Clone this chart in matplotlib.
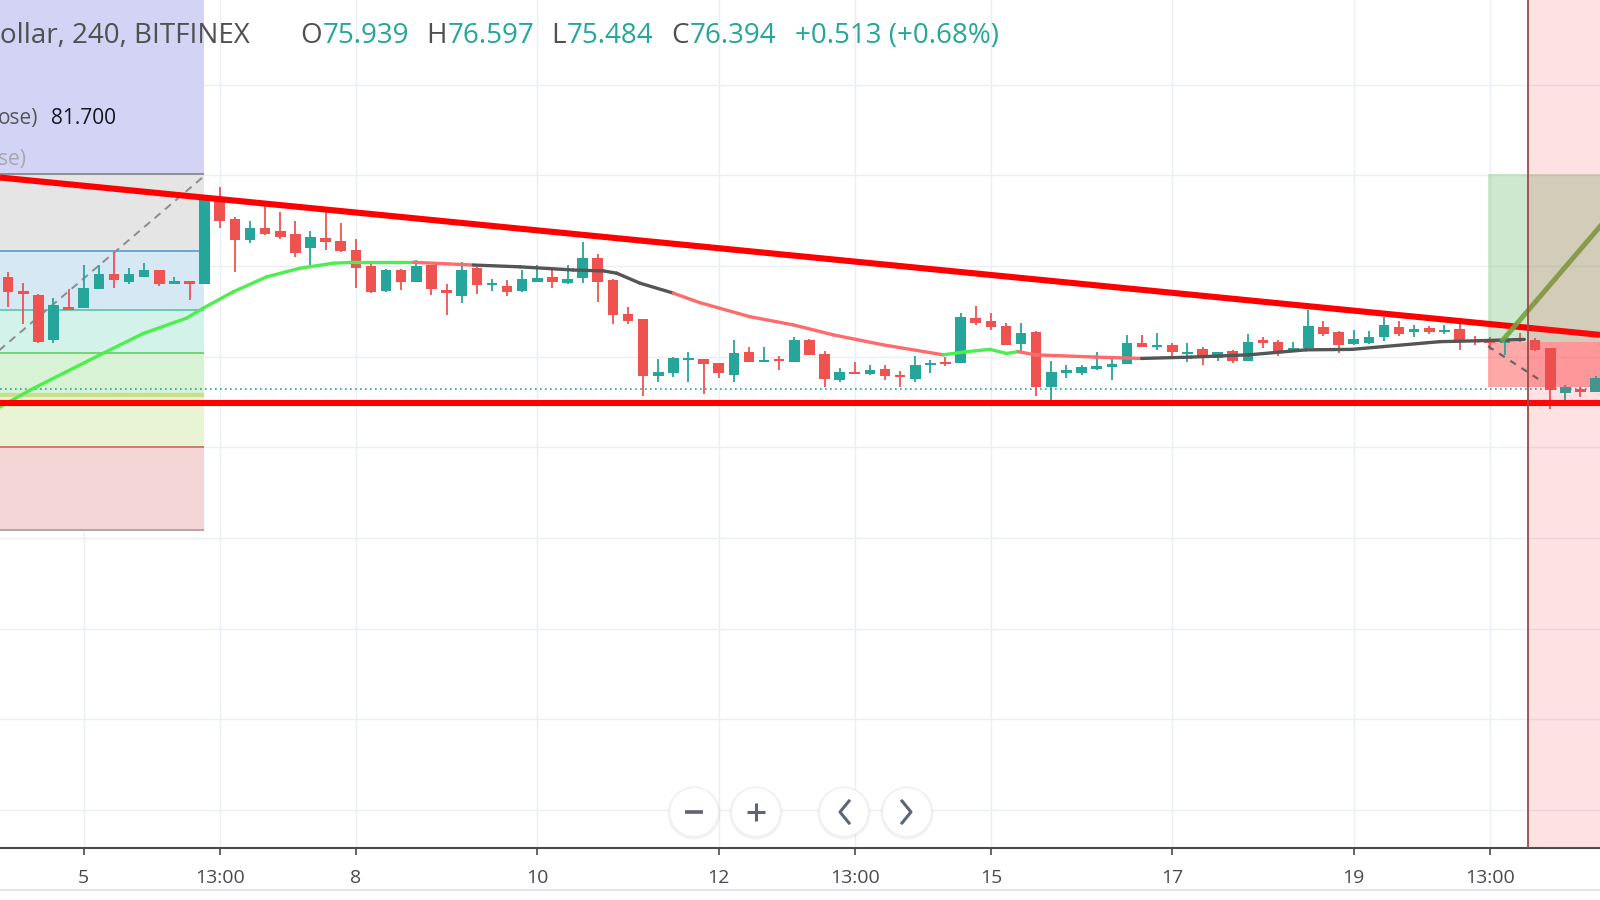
import matplotlib
matplotlib.use("Agg")
import matplotlib.pyplot as plt
from matplotlib.patches import Rectangle, Circle
from matplotlib.collections import LineCollection
import numpy as np

plt.rcParams['font.family'] = ['Open Sans', 'DejaVu Sans']

# ---------------- data (4h bars, index 0 = day 5) ----------------
bar_index = list(range(-5, 101))
opens = [78.88, 78.57, 78.49, 77.49, 78.21, 78.19, 78.61, 78.95, 78.76, 78.88,
         79.02, 78.72, 78.79, 78.73, 80.57, 80.15, 79.69, 79.95, 79.90, 79.82,
         79.51, 79.73, 79.68, 79.47, 79.12, 78.57, 79.03, 78.76, 79.13, 78.59,
         78.46, 79.07, 78.70, 78.68, 78.57, 78.77, 78.87, 78.75, 78.85, 79.29,
         78.81, 78.06, 77.95, 76.69, 76.77, 77.04, 77.06, 76.99, 76.72, 77.22,
         77.00, 77.06, 77.01, 77.49, 77.18, 76.61, 76.79, 76.73, 76.84, 76.72,
         76.63, 76.94, 77.01, 76.97, 77.98, 77.91, 77.80, 77.39, 77.67, 76.46,
         76.75, 76.77, 76.85, 76.90, 76.95, 77.41, 77.34, 77.38, 77.19, 77.29,
         77.08, 77.24, 77.02, 77.49, 77.45, 77.24, 77.30, 77.78, 77.67, 77.39,
         77.43, 77.56, 77.78, 77.67, 77.75, 77.66, 77.72, 77.49, 77.49, 77.43,
         77.50, 77.49, 77.30, 76.31, 76.40, 76.35]
highs = [78.99, 78.74, 78.50, 78.41, 78.61, 79.14, 79.13, 79.42, 79.07, 79.18,
         79.02, 78.87, 78.79, 80.65, 80.87, 80.21, 80.10, 80.45, 80.30, 80.10,
         79.88, 80.32, 80.06, 79.71, 79.20, 79.05, 79.05, 79.25, 79.13, 78.72,
         79.20, 79.10, 78.83, 78.81, 79.02, 79.14, 79.02, 79.13, 79.64, 79.38,
         78.83, 78.21, 77.95, 77.07, 77.12, 77.23, 77.06, 76.99, 77.49, 77.34,
         77.34, 77.13, 77.55, 77.50, 77.24, 76.86, 77.01, 76.94, 76.94, 76.81,
         77.13, 77.05, 77.11, 78.08, 78.24, 78.08, 77.87, 77.86, 77.69, 77.03,
         76.94, 76.94, 77.23, 77.13, 77.60, 77.60, 77.65, 77.43, 77.41, 77.34,
         77.22, 77.27, 77.62, 77.56, 77.49, 77.45, 78.15, 77.91, 77.69, 77.71,
         77.69, 78.00, 77.91, 77.82, 77.80, 77.82, 77.86, 77.58, 77.55, 77.56,
         77.65, 77.53, 77.30, 76.50, 76.44, 76.69]
lows = [78.22, 77.83, 77.41, 77.41, 78.15, 78.19, 78.61, 78.64, 78.72, 78.88,
        78.68, 78.72, 78.37, 78.73, 79.95, 78.99, 79.62, 79.80, 79.71, 79.32,
        79.13, 79.47, 79.42, 78.64, 78.53, 78.55, 78.59, 78.76, 78.49, 78.04,
        78.30, 78.50, 78.57, 78.46, 78.55, 78.76, 78.64, 78.72, 78.74, 78.33,
        77.84, 77.84, 76.26, 76.57, 76.66, 76.57, 76.30, 76.64, 76.57, 77.01,
        77.00, 76.83, 77.01, 77.16, 76.44, 76.57, 76.73, 76.72, 76.61, 76.44,
        76.57, 76.77, 76.91, 76.97, 77.82, 77.71, 77.38, 77.23, 76.25, 76.08,
        76.64, 76.72, 76.83, 76.61, 76.95, 77.34, 77.27, 77.13, 77.01, 76.94,
        77.02, 76.99, 77.02, 77.30, 77.13, 77.23, 77.30, 77.58, 77.21, 77.38,
        77.39, 77.47, 77.58, 77.56, 77.63, 77.63, 77.27, 77.38, 77.27, 77.16,
        77.45, 77.24, 75.96, 76.08, 76.24, 76.35]
closes = [78.54, 78.51, 77.45, 78.26, 78.15, 78.64, 78.95, 78.81, 78.95, 79.02,
          78.72, 78.79, 78.73, 80.65, 80.11, 79.69, 79.95, 79.82, 79.76, 79.40,
          79.76, 79.65, 79.45, 79.08, 78.55, 79.03, 78.77, 79.12, 78.61, 78.52,
          79.02, 78.70, 78.74, 78.54, 78.83, 78.86, 78.77, 78.83, 79.29, 78.77,
          78.04, 77.91, 76.69, 76.79, 77.08, 77.09, 76.96, 76.77, 77.21, 77.01,
          77.05, 77.02, 77.49, 77.16, 76.62, 76.79, 76.73, 76.83, 76.69, 76.66,
          76.94, 76.99, 76.97, 78.00, 77.86, 77.77, 77.38, 77.64, 76.46, 76.79,
          76.83, 76.89, 76.91, 76.96, 77.41, 77.34, 77.38, 77.22, 77.23, 77.08,
          77.22, 77.02, 77.44, 77.41, 77.21, 77.30, 77.80, 77.63, 77.38, 77.50,
          77.56, 77.82, 77.63, 77.72, 77.67, 77.71, 77.45, 77.44, 77.43, 77.49,
          77.47, 77.27, 76.38, 76.44, 76.33, 76.64]

# moving average (colour changes with its direction)
ma_x = [-5.54, -3.33, -1.12, 1.08, 3.94, 6.81, 7.91, 9.89, 12.10, 14.31, 16.51,
        17.83, 21.80, 25.77, 28.86, 32.38, 34.37, 35.25, 36.79, 39.0, 40.75,
        44.07, 46.93, 49.58, 52.88, 56.85, 58.4, 59.94, 61.04, 61.81, 62.92,
        66.93, 69.97, 73.26, 77.06, 80.84, 83.88, 85.91, 89.7, 92.24, 95.28]
ma_y = [76.01, 76.42, 76.79, 77.16, 77.63, 77.97, 78.19, 78.55, 78.88, 79.07,
        79.18, 79.20, 79.20, 79.14, 79.10, 79.03, 79.01, 78.96, 78.74, 78.52,
        78.31, 78.00, 77.82, 77.60, 77.38, 77.16, 77.23, 77.28, 77.19, 77.23,
        77.16, 77.11, 77.08, 77.11, 77.16, 77.27, 77.28, 77.34, 77.45, 77.47,
        77.50]
ma_runs = [("up", 12), ("down", 1), ("flat", 6), ("down", 6), ("up", 4),
           ("down", 3), ("flat", 8)]

# drawings
resistance_x = [-5.54, 100.29]
resistance_y = [81.07, 77.60]
support_level = 76.10
last_price = 76.40
fib_levels = [81.15, 79.45, 78.15, 77.21, 76.27, 75.13, 73.30]
fib_top = 86.5
fib_end = 7.96
fib_diag_x = [-7.0, 7.96]
fib_diag_y = [76.86, 81.10]
pos_start = 92.88
pos_entry = 77.45
pos_target = 81.15
pos_stop = 76.46
target_path_x = [93.87, 101.5]
target_path_y = [77.49, 80.46]
stop_path_x = [92.88, 96.52]
stop_path_y = [77.35, 76.56]
future_start = 95.5

header_title = "ollar, 240, BITFINEX"
ohlc_labels = ["O", "H", "L", "C"]
ohlc_values = ["75.939", "76.597", "75.484", "76.394"]
change_text = "+0.513 (+0.68%)"

tick_idx = [0, 9, 18, 30, 42, 51, 60, 72, 84, 93]
tick_labels = ["5", "13:00", "8", "10", "12", "13:00", "15", "17", "19", "13:00"]
grid_prices = [83.12, 81.12, 79.12, 77.12, 75.12, 73.12, 71.12, 69.12, 67.12]

UP = "#26a69a"
DOWN = "#ef5350"

# ---------------- figure ----------------
fig = plt.figure(figsize=(16, 9), dpi=100)
fig.patch.set_facecolor("white")
ax = fig.add_axes([0, 52 / 900, 1, 848 / 900])
ax.set_xlim(-5.536, 100.29)
ax.set_ylim(66.285, 84.984)
ax.set_facecolor("white")

# grid
ax.set_xticks(tick_idx)
ax.set_xticklabels(tick_labels)
ax.set_yticks(grid_prices)
ax.set_yticklabels([])
ax.grid(True, color="#eaeff5", lw=1.0, zorder=0)
ax.set_axisbelow(True)
for s in ["top", "left", "right"]:
    ax.spines[s].set_visible(False)
ax.spines["bottom"].set_color("#4a4a4a")
ax.spines["bottom"].set_linewidth(1.5)
ax.tick_params(axis="y", length=0)
ax.tick_params(axis="x", length=5, width=1.2, color="#4a4a4a",
               labelsize=14, labelcolor="#4a4a4a", pad=10)

# fibonacci zones
fib_fill = ["#d3d4f5", "#e5e5e5", "#d5e8f4", "#d3f3ea", "#d7f2d5", "#e9f4d4", "#f3d5d5"]
fib_line = ["#8e8e9a", "#6aa6d6", "#63ccb6", "#74d374", "#c6e08e", "#d27a70", "#b0a6a6"]
bounds = [fib_top] + fib_levels
for k in range(len(fib_levels)):
    ax.fill_between([-8, fib_end], bounds[k + 1], bounds[k], color=fib_fill[k],
                    lw=0, zorder=1)
for k, lv in enumerate(fib_levels):
    ax.plot([-8, fib_end], [lv, lv], color=fib_line[k],
            lw=3 if k == 4 else 1.4, zorder=1.2, solid_capstyle="butt")
ax.plot(fib_diag_x, fib_diag_y, color="#8c8c8c", lw=1.4, ls=(0, (4, 3)), zorder=1.3)

# position tool (long)
ax.add_patch(Rectangle((pos_start, pos_entry), 10, pos_target - pos_entry,
                       facecolor=(76 / 255, 175 / 255, 80 / 255, 0.28), lw=0, zorder=1))
ax.add_patch(Rectangle((pos_start, pos_stop), 10, pos_entry - pos_stop,
                       facecolor=(1.0, 82 / 255, 82 / 255, 0.5), lw=0, zorder=1))

# last price line
ax.axhline(last_price, color="#26a69a", lw=1.2, ls=(0, (1, 2)), zorder=2)

# candles
x = np.array(bar_index, dtype=float)
o = np.array(opens); c = np.array(closes); h = np.array(highs); l = np.array(lows)
col = np.where(c >= o, UP, DOWN)
body_h = np.maximum(np.abs(c - o), 0.045)
body_b = (o + c) / 2 - body_h / 2
ax.vlines(x, l, h, colors=col, lw=1.3, zorder=3)
ax.bar(x, body_h, bottom=body_b, width=0.7, color=col, lw=0, zorder=3.1)

# moving average
ma_col = {"up": "#4cef4c", "down": "#ff6b6b", "flat": "#555555"}
segs, cols = [], []
k = 0
for kind, n in ma_runs:
    for _ in range(n):
        segs.append([(ma_x[k], ma_y[k]), (ma_x[k + 1], ma_y[k + 1])])
        cols.append(ma_col[kind])
        k += 1
ax.add_collection(LineCollection(segs, colors=cols, linewidths=2.4,
                                 capstyle="round", zorder=3.5))

# trend lines
ax.plot(resistance_x, resistance_y, color="#ff0000", lw=4.4, zorder=4,
        solid_capstyle="butt")
ax.axhline(support_level, color="#ff0000", lw=4.4, zorder=4)
ax.plot(target_path_x, target_path_y, color="#6fa63f", lw=3.6, alpha=0.9, zorder=4)
ax.plot(stop_path_x, stop_path_y, color="#666666", lw=1.6, ls=(0, (3, 3)), zorder=4)

# future area
ax.add_patch(Rectangle((future_start, 60), 10, 40,
                       facecolor=(242 / 255, 54 / 255, 69 / 255, 0.15), lw=0, zorder=5))
ax.axvline(future_start, color="#9a4a4a", lw=1.3, zorder=5.5)

# ---------------- overlay (pixel coords) ----------------
ui = fig.add_axes([0, 0, 1, 1], zorder=10)
ui.set_xlim(0, 1600)
ui.set_ylim(900, 0)
ui.axis("off")

ui.plot([0, 1600], [890, 890], color="#e3e6ec", lw=1.5)

dark = "#505050"
hdr = dict(fontsize=20, va="bottom", ha="left")
ui.text(0, 50, header_title, color=dark, **hdr)
for lab, xl, val in zip(ohlc_labels, [300, 426, 551, 671], ohlc_values):
    t = ui.text(xl, 50, lab, color=dark, **hdr)
    ui.annotate(val, xy=(1, 0), xycoords=t, xytext=(1, 0),
                textcoords="offset points", color=UP, fontsize=20,
                va="bottom", ha="left")
ui.text(795, 50, change_text, color=UP, **hdr)

ui.text(-2, 124, "ose)", color="#555555", fontsize=15, va="baseline", ha="left")
ui.text(51, 124, "81.700", color="#131722", fontsize=15, va="baseline", ha="left")
ui.text(-2, 165, "se)", color="#a8a8a8", fontsize=15, va="baseline", ha="left")

# navigation buttons
btn_col = "#5d6675"
for cx in [694, 756, 844, 907]:
    ui.add_patch(Circle((cx, 813), 26.5, facecolor=(0, 0, 0, 0.05), lw=0))
    ui.add_patch(Circle((cx, 812), 24.5, facecolor="white", edgecolor="#f1f1f1", lw=1))
ui.plot([685, 703], [812, 812], color=btn_col, lw=2.6, solid_capstyle="butt")
ui.plot([747, 765], [812, 812], color=btn_col, lw=2.2, solid_capstyle="butt")
ui.plot([756, 756], [803, 821], color=btn_col, lw=2.2, solid_capstyle="butt")
ui.plot([849, 840, 849], [801, 812, 823], color=btn_col, lw=2.2)
ui.plot([902, 911, 902], [801, 812, 823], color=btn_col, lw=2.2)

fig.savefig("out.png", dpi=100)
